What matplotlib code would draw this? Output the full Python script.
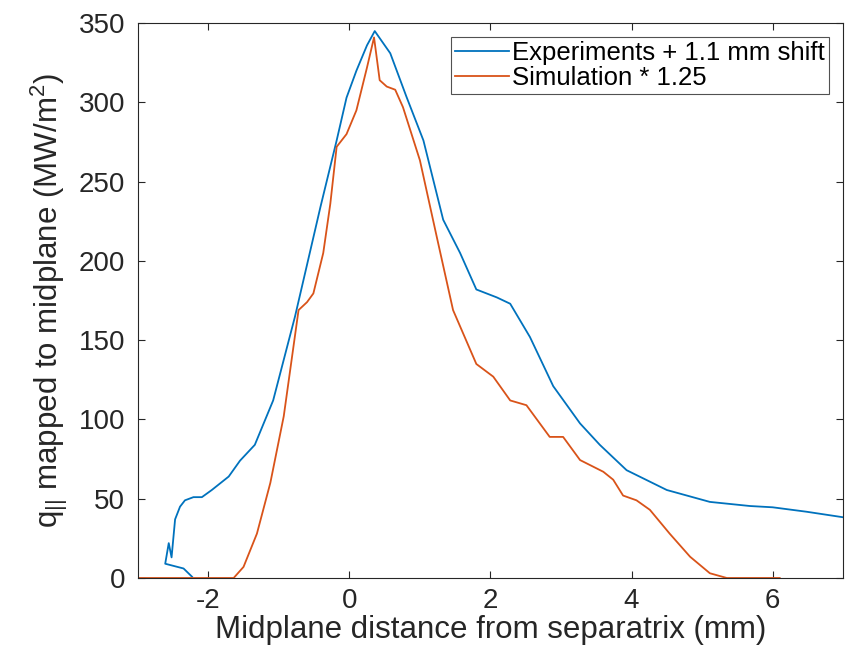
import matplotlib
matplotlib.use('Agg')
import matplotlib.pyplot as plt

plt.rcParams['font.family'] = ['Liberation Sans', 'DejaVu Sans']
plt.rcParams['axes.unicode_minus'] = False
plt.rcParams['mathtext.fontset'] = 'custom'
plt.rcParams['mathtext.rm'] = 'Liberation Sans'
plt.rcParams['mathtext.it'] = 'Liberation Sans'

# ── Data ────────────────────────────────────────────────────────
exp_x = [-2.23, -2.35, -2.61, -2.56, -2.52, -2.47, -2.40, -2.33, -2.21, -2.09,
         -1.95, -1.71, -1.55, -1.34, -1.08, -0.77, -0.41, -0.18, -0.04, 0.10,
         0.25, 0.36, 0.58, 0.81, 1.05, 1.33, 1.57, 1.80, 2.09, 2.28, 2.56,
         2.89, 3.27, 3.55, 3.93, 4.50, 5.11, 5.68, 6.00, 6.48, 7.00]
exp_y = [0.8, 6, 9, 22, 13, 37, 45, 49, 51, 51,
         55.5, 64, 74, 84, 112, 165, 234, 276, 303, 320,
         336, 345, 331, 303.5, 276, 226, 205, 182, 177, 173, 152,
         121, 97.5, 84, 68, 55.5, 48, 45.4, 44.6, 41.8, 38.3]

sim_x = [-3.00, -1.64, -1.50, -1.31, -1.12, -0.93, -0.72, -0.60, -0.51, -0.37,
         -0.27, -0.18, -0.04, 0.10, 0.25, 0.35, 0.43, 0.53, 0.65, 0.76,
         1.00, 1.24, 1.47, 1.80, 2.04, 2.28, 2.51, 2.84, 3.03, 3.27,
         3.60, 3.74, 3.88, 4.07, 4.26, 4.54, 4.83, 5.11, 5.35, 6.10]
sim_y = [0, 0, 7, 28, 60, 102, 169, 174, 179.5, 205,
         236, 272, 280, 295, 322, 341, 314, 310, 308, 297,
         263.5, 215, 169, 135, 127, 112, 109, 89, 89, 74.4,
         67, 62, 52, 49, 43, 28, 13.4, 3, 0, 0]

labels = ['Experiments + 1.1 mm shift', 'Simulation * 1.25']

fig = plt.figure(figsize=(8.5, 6.52), dpi=100)
ax = fig.add_axes([0.162, 0.1135, 0.830, 0.851])

ax.plot(exp_x, exp_y, color='#0072BD', linewidth=1.3, label=labels[0])
ax.plot(sim_x, sim_y, color='#D95319', linewidth=1.3, label=labels[1])

ax.set_xlim(-3, 7)
ax.set_ylim(0, 350)
ax.set_xticks([-2, 0, 2, 4, 6])
ax.set_yticks(range(0, 351, 50))
ax.tick_params(direction='in', top=True, right=True, labelsize=20,
               length=5, width=0.8, colors='#262626')
ax.tick_params(axis='x', pad=7)
ax.tick_params(axis='y', pad=9)
for s in ax.spines.values():
    s.set_color('#262626')
    s.set_linewidth(0.8)

ax.set_xlabel('Midplane distance from separatrix (mm)', fontsize=22.5,
              color='#262626', labelpad=1)
ax.set_ylabel(r'q$_{||}$ mapped to midplane (MW/m$^2$)', fontsize=22.5,
              color='#262626', labelpad=6)

leg = ax.legend(loc='upper right', fontsize=18.5, frameon=True, fancybox=False,
                handlelength=2.1, handletextpad=0.15, borderpad=0.15,
                labelspacing=0.05, borderaxespad=0.55)
leg.get_frame().set_edgecolor('#262626')
leg.get_frame().set_linewidth(0.8)

fig.savefig('out.png', dpi=100, facecolor='white')
